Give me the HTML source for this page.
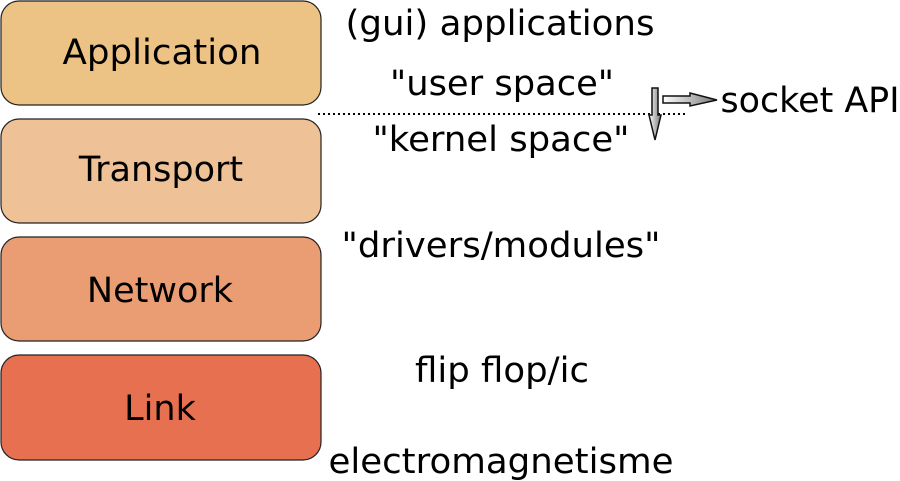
<!DOCTYPE html>
<html><head><style>body{margin:0;background:#fff}svg{display:block}</style></head>
<body>
<svg width="900" height="481" xmlns="http://www.w3.org/2000/svg" font-family="DejaVu Sans, Liberation Sans, sans-serif">
<defs>
<linearGradient id="gv" x1="0" y1="0" x2="1" y2="0"><stop offset="0" stop-color="#fff"/><stop offset="1" stop-color="#777"/></linearGradient>
<linearGradient id="gh" x1="0" y1="0" x2="1" y2="0"><stop offset="0" stop-color="#fff"/><stop offset="1" stop-color="#777"/></linearGradient>
</defs>
<g stroke="#222" stroke-width="1.2">
<rect x="1" y="1" width="320" height="104" rx="18" fill="#ecc385"/>
<rect x="1" y="119" width="320" height="104" rx="18" fill="#efc196"/>
<rect x="1" y="237" width="320" height="104" rx="18" fill="#ea9c73"/>
<rect x="1" y="355" width="320" height="105" rx="18" fill="#e77050"/>
</g>
<g font-size="35" text-anchor="middle" fill="#000">
<text x="162" y="64" textLength="199" lengthAdjust="spacingAndGlyphs">Application</text>
<text x="161" y="181">Transport</text>
<text x="160" y="302">Network</text>
<text x="160" y="420">Link</text>
</g>
<line x1="318" y1="114" x2="688" y2="114" stroke="#000" stroke-width="2" stroke-dasharray="2,3"/>
<g font-size="35" text-anchor="middle" fill="#000">
<text x="500" y="35" textLength="309" lengthAdjust="spacingAndGlyphs">(gui) applications</text>
<text x="502" y="95" textLength="224" lengthAdjust="spacingAndGlyphs">"user space"</text>
<text x="501" y="151" textLength="257" lengthAdjust="spacingAndGlyphs">"kernel space"</text>
<text x="501" y="257" textLength="319" lengthAdjust="spacingAndGlyphs">"drivers/modules"</text>
<text x="502" y="382" textLength="174" lengthAdjust="spacingAndGlyphs">flip flop/ic</text>
<text x="501" y="473" textLength="345" lengthAdjust="spacingAndGlyphs">electromagnetisme</text>
<text x="810" y="112" textLength="179" lengthAdjust="spacingAndGlyphs">socket API</text>
</g>
<path d="M652,88 L658,88 L658,115 L661,115 L655,140 L649,115 L652,115 Z" fill="url(#gv)" stroke="#111" stroke-width="1.5"/>
<path d="M663,96 L690,96 L690,93 L717,100 L690,106 L690,103 L663,103 Z" fill="url(#gh)" stroke="#111" stroke-width="1.5"/>
</svg>
</body></html>
